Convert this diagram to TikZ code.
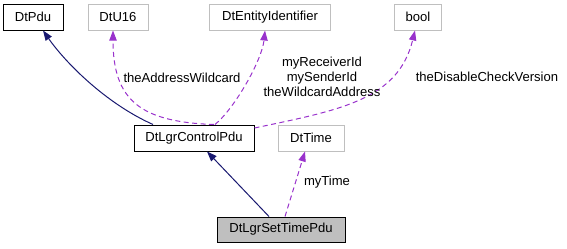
\documentclass[tikz,border=0pt]{standalone}
\usepackage{fontspec}
\setmainfont{Liberation Sans}
\usetikzlibrary{arrows.meta,calc}
\definecolor{inhblue}{RGB}{25,25,112}
\definecolor{usepurple}{RGB}{153,50,204}
\definecolor{extgray}{RGB}{191,191,191}
\definecolor{curgray}{RGB}{191,191,191}
\begin{document}
\begin{tikzpicture}[x=0.75pt, y=-0.75pt, font=\fontsize{9.8}{11.25}\selectfont,
    >={Triangle[length=7.5pt,width=5.5pt]}]
    \tikzset{
      cls/.style={draw=black, fill=white, line width=0.75pt, minimum height=19.5pt, inner sep=0pt},
      ext/.style={cls, draw=extgray},
      cur/.style={cls, fill=curgray},
      inh/.style={->, draw=inhblue, line width=0.75pt},
      use/.style={->, draw=usepurple, line width=0.75pt, dash pattern=on 3.75pt off 2.6pt},
      lbl/.style={inner sep=0pt, align=center},
    }
    \useasboundingbox (0,0) rectangle (567,248);

    \node[cls, minimum width=45pt] (pdu) at (33,17) {DtPdu};
    \node[ext, minimum width=45pt] (u16) at (118,17) {DtU16};
    \node[ext, minimum width=90.75pt] (ent) at (270,17) {DtEntityIdentifier};
    \node[ext, minimum width=35.25pt] (bool) at (418,17) {bool};
    \node[cls, minimum width=90pt] (ctl) at (194,138) {DtLgrControlPdu};
    \node[ext, minimum width=49.5pt] (time) at (311,138) {DtTime};
    \node[cur, minimum width=96pt, minimum height=18.75pt] (set) at (281,229.5) {DtLgrSetTimePdu};

    % inheritance
    \draw[inh] ($(ctl.north)+(-41,0)$) .. controls (105,103) and (65,62) .. ($(pdu.south)+(10,0)$);
    \draw[inh] ($(set.north)+(-12,0)$) -- ($(ctl.south)+(13,0)$);

    % usage
    \draw[use] ($(ctl.north)+(20,0)$) .. controls (140,122) and (113,100) .. ($(u16.south)+(-5,0)$);
    \draw[use] ($(ctl.north)+(21,0)$) .. controls (235,108) and (262,60) .. ($(ent.south)+(-5,0)$);
    \draw[use] ($(ctl.east)+(0,-10)$) .. controls (340,110) and (398,100) .. ($(bool.south)+(-3,0)$);
    \draw[use] ($(set.north)+(4,0)$) -- ($(time.south)+(-6,0)$);

    \node[lbl] (lblu16) at (182,78) {theAddressWildcard};
    \node[lbl] (lblent) at (322,77) {myReceiverId\\mySenderId\\theWildcardAddress};
    \node[lbl] (lblbool) at (487,77) {theDisableCheckVersion};
    \node[lbl] (lbltime) at (327,182) {myTime};
  \end{tikzpicture}
\end{document}
